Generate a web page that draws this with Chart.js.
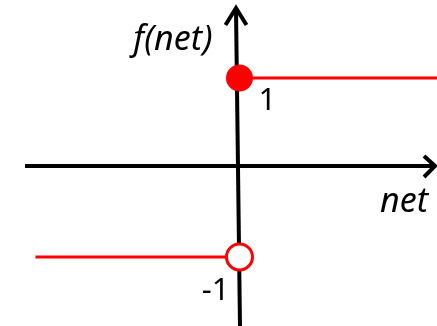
<!DOCTYPE html>
<html lang="en">
<head>
<meta charset="UTF-8">
<title>Step function</title>
<style>
  body { margin: 0; padding: 0; background: #fff; }
  canvas { display: block; }
</style>
<script src="https://cdn.jsdelivr.net/npm/chart.js"></script>
</head>
<body>
<canvas id="stepChart" width="437" height="326"></canvas>
<script>
// step function f(net): 1 for net >= 0, -1 for net < 0
const upperX = [0, 2.21];
const upperY = [1, 1];
const lowerX = [-2.28, 0];
const lowerY = [-1, -1];
const labels = { yAxis: 'f(net)', xAxis: 'net', high: '1', low: '-1' };

const toPoints = (xs, ys) => xs.map((x, i) => ({ x: x, y: ys[i] }));

// draws arrows for the axes and the text labels
const axesPlugin = {
  id: 'axes',
  beforeDatasetsDraw(chart) {
    const ctx = chart.ctx;
    const x = chart.scales.x, y = chart.scales.y;
    const ox = x.getPixelForValue(0), oy = y.getPixelForValue(0) - 1.5;
    ctx.save();
    ctx.strokeStyle = '#000';
    ctx.lineWidth = 4;
    ctx.lineCap = 'butt';
    ctx.lineJoin = 'miter';
    // horizontal axis
    ctx.beginPath();
    ctx.moveTo(25, oy);
    ctx.lineTo(435, oy);
    ctx.stroke();
    ctx.beginPath();
    ctx.moveTo(424, oy - 10);
    ctx.lineTo(435, oy);
    ctx.lineTo(424, oy + 11);
    ctx.stroke();
    // vertical axis (slightly tilted like the original drawing)
    ctx.beginPath();
    ctx.moveTo(ox - 3.5, 8);
    ctx.lineTo(ox + 0.5, 326);
    ctx.stroke();
    ctx.beginPath();
    ctx.moveTo(ox - 14, 25);
    ctx.lineTo(ox - 3.5, 8);
    ctx.lineTo(ox + 7, 25);
    ctx.stroke();

    // labels
    ctx.fillStyle = '#000';
    ctx.textBaseline = 'alphabetic';
    ctx.font = 'italic 34px "Noto Sans"';
    ctx.textAlign = 'right';
    ctx.fillText(labels.yAxis, ox - 27, 50);
    ctx.fillText(labels.xAxis, 428, oy + 46);
    ctx.font = '31px "Noto Sans"';
    ctx.textAlign = 'left';
    ctx.fillText(labels.high, ox + 19, y.getPixelForValue(1) + 32);
    ctx.textAlign = 'right';
    ctx.fillText(labels.low, ox - 10, y.getPixelForValue(-1) + 43);
    ctx.restore();
  }
};

new Chart(document.getElementById('stepChart'), {
  type: 'scatter',
  data: {
    datasets: [
      {
        data: toPoints(upperX, upperY),
        showLine: true,
        borderColor: '#ff0000',
        borderWidth: 3,
        pointRadius: [13.5, 0],
        pointBackgroundColor: '#ff0000',
        pointBorderColor: '#ff0000',
        pointBorderWidth: 0,
        clip: false
      },
      {
        data: toPoints(lowerX, lowerY),
        showLine: true,
        borderColor: '#ff0000',
        borderWidth: 3,
        pointRadius: [0, 13],
        pointBackgroundColor: '#ffffff',
        pointBorderColor: '#ff0000',
        pointBorderWidth: 3,
        clip: false
      }
    ]
  },
  options: {
    responsive: false,
    animation: false,
    layout: { padding: 0, autoPadding: false },
    plugins: { legend: { display: false }, tooltip: { enabled: false } },
    scales: {
      x: { type: 'linear', display: false, min: -2.676, max: 2.207 },
      y: { type: 'linear', display: false, min: -1.771, max: 1.871 }
    }
  },
  plugins: [axesPlugin]
});
</script>
</body>
</html>
